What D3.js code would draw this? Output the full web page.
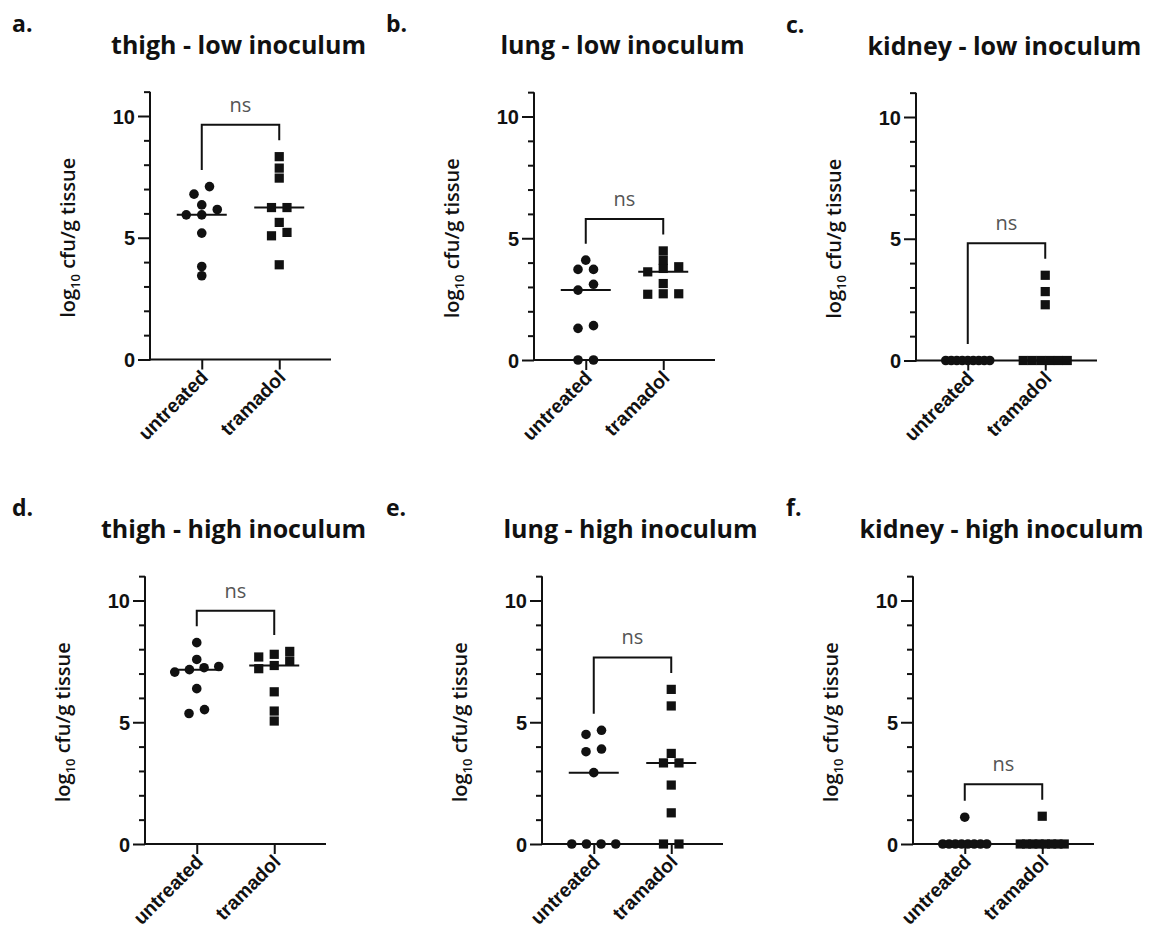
<!DOCTYPE html>
<html lang="en">
<head>
<meta charset="utf-8">
<title>cfu per tissue</title>
<script src="https://d3js.org/d3.v7.min.js"></script>
<style>
  body { margin: 0; background: #fff; }
  svg { display: block; }
  text { font-family: "Liberation Sans", Arial, sans-serif; fill: #111; }
  .title { font-family: "Open Sans", sans-serif; font-weight: 700; font-size: 25px; }
  .letter { font-family: "Open Sans", sans-serif; font-weight: 700; font-size: 23px; }
  .ylab { font-family: "Open Sans", sans-serif; font-weight: 600; font-size: 20px; }
  .tick { font-weight: 700; font-size: 20px; }
  .xtick { font-weight: 700; font-size: 19.5px; }
  .ns { font-family: "Open Sans", sans-serif; font-size: 20px; fill: #555; }
</style>
</head>
<body>
<svg width="1162" height="940"></svg>
<script>
// data
var groups = ["untreated", "tramadol"];
var panelLetters = ["a.", "b.", "c.", "d.", "e.", "f."];
var panelTitles = ["thigh - low inoculum", "lung - low inoculum", "kidney - low inoculum",
                   "thigh - high inoculum", "lung - high inoculum", "kidney - high inoculum"];
var yTicks = [0, 5, 10];
var significance = ["ns", "ns", "ns", "ns", "ns", "ns"];

var untreatedValues = [
  [7.1, 6.79, 6.35, 6.16, 5.94, 5.94, 5.19, 3.82, 3.44],
  [4.1, 3.72, 3.72, 3.11, 2.87, 1.41, 1.3, 0, 0],
  [0, 0, 0, 0, 0, 0, 0, 0, 0],
  [8.27, 7.58, 7.29, 7.24, 7.16, 7.06, 6.38, 5.52, 5.36],
  [4.67, 4.5, 3.9, 3.79, 2.93, 0, 0, 0, 0],
  [1.1, 0, 0, 0, 0, 0, 0, 0, 0]
];
var tramadolValues = [
  [8.33, 7.86, 7.45, 6.24, 6.24, 5.63, 5.22, 5.08, 3.89],
  [4.48, 4.1, 3.83, 3.76, 3.62, 3.14, 2.72, 2.72, 2.70],
  [3.5, 2.83, 2.29, 0, 0, 0, 0, 0, 0],
  [7.91, 7.79, 7.68, 7.52, 7.33, 7.20, 6.25, 5.46, 5.05],
  [6.35, 5.67, 3.72, 3.33, 3.33, 2.42, 1.28, 0, 0],
  [1.14, 0, 0, 0, 0, 0, 0, 0, 0]
];

// layout
var lefts = [150, 534, 916, 145, 542, 913];
var bottoms = [359.5, 360, 360.5, 844, 844, 844];
var letterX = [12, 386, 786];
var plotW = 181, unit = 24.35;

var svg = d3.select("svg");

// simple prism-like scatter layout: rows of nearby points spread symmetrically
function swarm(values, y) {
  var pts = values.map(function(v) { return {v: v, py: y(v)}; })
    .sort(function(a, b) { return a.v - b.v; });
  var rows = [], row = null;
  pts.forEach(function(p) {
    if (row && row[0].py - p.py < 8.5) row.push(p);
    else { row = [p]; rows.push(row); }
  });
  rows.forEach(function(r) {
    var n = r.length;
    var step = n > 1 ? Math.min(15.5, 44 / (n - 1)) : 0;
    r.forEach(function(p, i) { p.dx = (i - (n - 1) / 2) * step; });
  });
  return pts;
}

panelTitles.forEach(function(title, k) {
  var left = lefts[k], bottom = bottoms[k];
  var y = d3.scaleLinear().domain([0, 11]).range([bottom, bottom - 11 * unit]);
  var x = d3.scalePoint().domain(groups).range([left, left + plotW]).padding(0.668);
  var g = svg.append("g");

  g.append("text").attr("class", "letter")
    .attr("x", letterX[k % 3]).attr("y", bottom - 328).text(panelLetters[k]);
  g.append("text").attr("class", "title").attr("text-anchor", "middle")
    .attr("x", left + plotW / 2 - 2).attr("y", bottom - 306).text(title);

  // y axis
  var yAxis = g.append("g").attr("transform", "translate(" + left + ",0)")
    .call(d3.axisLeft(y).tickValues(d3.range(0, 12)).tickSize(6).tickFormat(""));
  yAxis.selectAll(".tick line").filter(function(d) { return yTicks.indexOf(d) >= 0; })
    .attr("x2", -12);
  yAxis.selectAll(".tick").filter(function(d) { return yTicks.indexOf(d) >= 0; })
    .append("text").attr("class", "tick").attr("x", -15).attr("dy", "0.36em")
    .attr("text-anchor", "end").text(function(d) { return d; });
  yAxis.select(".domain").attr("d", "M0," + y(11) + "V" + (bottom + 1));

  // x axis
  var xAxis = g.append("g").attr("transform", "translate(0," + bottom + ")")
    .call(d3.axisBottom(x).tickSize(10).tickSizeOuter(0).tickFormat(""));
  xAxis.select(".domain").attr("d", "M" + (left - 1) + ",0H" + (left + plotW));
  xAxis.selectAll(".tick").append("text").attr("class", "xtick")
    .attr("text-anchor", "end")
    .attr("transform", "translate(7,19) rotate(-45)")
    .text(function(d) { return d; });
  g.selectAll(".domain, .tick line").attr("stroke", "#111").attr("stroke-width", 2);

  // y label
  var yl = g.append("text").attr("class", "ylab").attr("text-anchor", "middle")
    .attr("transform", "translate(" + (left - 75) + "," + y(5) + ") rotate(-90)");
  yl.append("tspan").text("log");
  yl.append("tspan").attr("dy", 5).style("font-size", "13px").text("10");
  yl.append("tspan").attr("dy", -5).text(" cfu/g tissue");

  var sets = [untreatedValues[k], tramadolValues[k]];

  // points
  sets.forEach(function(vals, gi) {
    var cx = x(groups[gi]);
    var pts = swarm(vals, y);
    if (gi === 0) {
      g.selectAll(null).data(pts).enter().append("circle")
        .attr("cx", function(p) { return cx + p.dx; })
        .attr("cy", function(p) { return p.py; })
        .attr("r", 4.8).attr("fill", "#111");
    } else {
      g.selectAll(null).data(pts).enter().append("rect")
        .attr("x", function(p) { return cx + p.dx - 4.6; })
        .attr("y", function(p) { return p.py - 4.6; })
        .attr("width", 9.2).attr("height", 9.2).attr("fill", "#111");
    }
    var med = d3.median(vals);
    g.append("line").attr("x1", cx - 25).attr("x2", cx + 25)
      .attr("y1", y(med)).attr("y2", y(med))
      .attr("stroke", "#111").attr("stroke-width", 2);
  });

  // significance bracket
  var topY = y(d3.max(sets[0].concat(sets[1]))) - 32;
  var x0 = x(groups[0]), x1 = x(groups[1]);
  var leg0 = y(d3.max(sets[0])) - 16.5, leg1 = y(d3.max(sets[1])) - 16.5;
  g.append("path")
    .attr("d", "M" + x0 + "," + leg0 + "V" + topY + "H" + x1 + "V" + leg1)
    .attr("fill", "none").attr("stroke", "#111").attr("stroke-width", 2);
  g.append("text").attr("class", "ns").attr("text-anchor", "middle")
    .attr("x", (x0 + x1) / 2).attr("y", topY - 13).text(significance[k]);
});
</script>
</body>
</html>
